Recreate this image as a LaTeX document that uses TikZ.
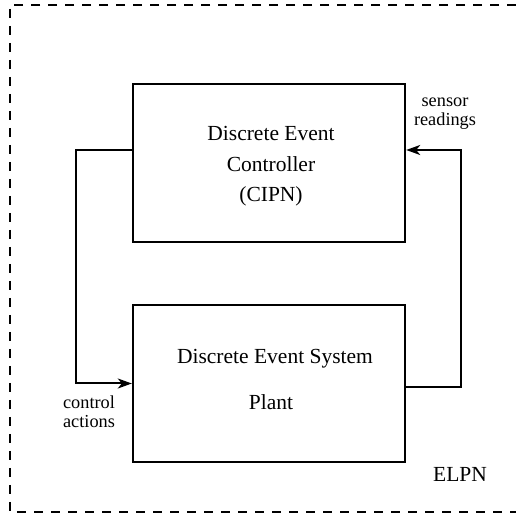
\documentclass[tikz,border=0pt]{standalone}
\usepackage{fontspec}
\setmainfont{Liberation Serif}
\usetikzlibrary{arrows.meta}
\begin{document}
\begin{tikzpicture}[x=1pt,y=1pt,
  block/.style={draw, line width=2.4pt, minimum width=272pt, minimum height=158pt, inner sep=0pt},
  conn/.style={line width=2pt, -{Stealth[length=14pt,width=10pt,inset=4pt]}},
  boxtext/.style={font=\fontsize{21.5}{26}\selectfont, anchor=base, inner sep=0pt},
  sidetext/.style={font=\fontsize{18.3}{20}\selectfont, anchor=base, inner sep=0pt},
  frame/.style={line width=2.2pt, dash pattern=on 9pt off 8pt}]
  \useasboundingbox (0,0) rectangle (515,516);

  % environment frame (open on the right)
  \draw[frame] (516,511) -- (10,511) -- (10,4) -- (516,4);

  % controller and plant blocks
  \node[block] (ctrl) at (269,353) {};
  \node[block, minimum height=157pt] (plant) at (269,132.5) {};

  % block captions
  \node[boxtext] (c1) at (271,375) {Discrete Event};
  \node[boxtext] (c2) at (271,344.5) {Controller};
  \node[boxtext] (c3) at (271,314) {(CIPN)};
  \node[boxtext] (p1) at (275,152) {Discrete Event System};
  \node[boxtext] (p2) at (271,106) {Plant};

  % feedback loop
  \draw[conn] ([yshift=13pt]ctrl.west) -- ++(-56,0) |- (plant.west);
  \draw[conn] ([yshift=-3.5pt]plant.east) -- ++(55,0) |- ([yshift=13pt]ctrl.east);

  % signal labels
  \node[sidetext] (ca1) at (89,107) {control};
  \node[sidetext] (ca2) at (89,88) {actions};
  \node[sidetext] (sr1) at (445,409) {sensor};
  \node[sidetext] (sr2) at (445,390) {readings};

  \node[boxtext] (elpn) at (460,34) {ELPN};
\end{tikzpicture}
\end{document}
